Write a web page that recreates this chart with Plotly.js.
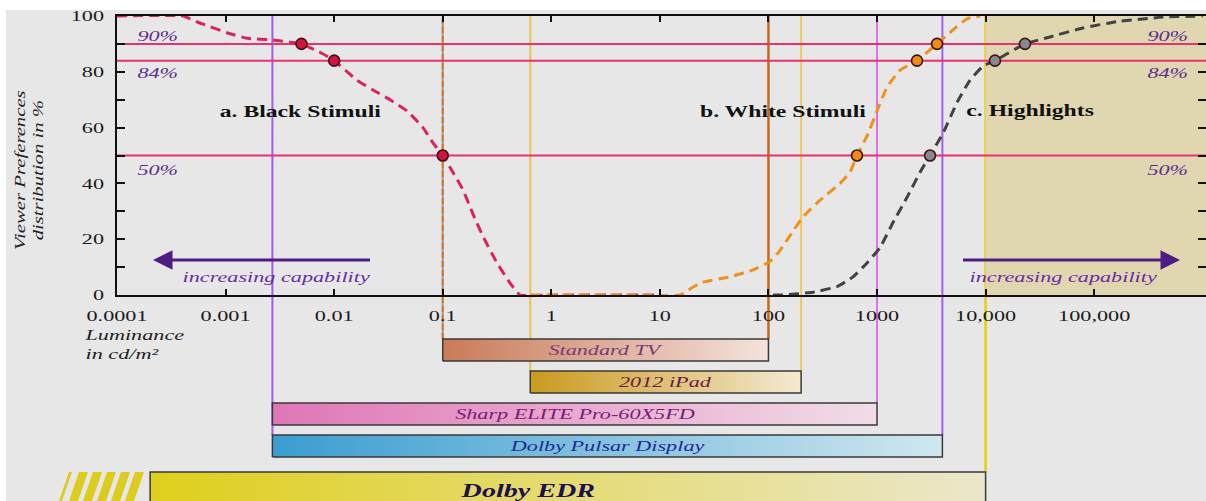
<!DOCTYPE html>
<html>
<head>
<meta charset="utf-8">
<script src="https://cdn.plot.ly/plotly-3.0.1.min.js"></script>
<style>html,body{margin:0;padding:0;background:#e7e7e7;}#chart{width:1206px;height:501px;}</style>
</head>
<body>
<div id="chart"></div>
<script>
// ---------------- data ----------------
const xTickVals = [1e-4, 1e-3, 1e-2, 0.1, 1, 10, 100, 1000, 1e4, 1e5];
const xTickText = ['0.0001', '0.001', '0.01', '0.1', '1', '10', '100', '1000', '10,000', '100,000'];
const yTickVals = [0, 20, 40, 60, 80, 100];
const yMinorVals = [10, 30, 50, 70, 90];

// a. Black stimuli
const blackX = [1e-4, 4.06e-4, 5.8e-4, 1.03e-3, 1.58e-3, 2.73e-3, 4.9e-3, 7.4e-3, 0.01, 0.0162, 0.0228, 0.0327, 0.0469, 0.0658, 0.0814, 0.1, 0.124, 0.154, 0.19, 0.235, 0.316, 0.417, 0.515, 1, 10];
const blackY = [100, 100, 97.5, 94, 92, 91.4, 90, 87, 84, 77, 73.5, 70, 66, 60, 54.5, 50, 44, 37.6, 29, 21, 11.5, 4.3, 0, 0, 0];
// b. White stimuli
const whiteX = [0.64, 5, 15.3, 23.4, 44.3, 72, 103, 128, 169, 208, 299, 456, 564, 654, 809, 1000, 1236, 1629, 2335, 3570, 5010, 6745, 8890];
const whiteY = [0, 0, 0, 4.3, 6.5, 9, 12, 16, 23, 28, 34, 40, 44, 50, 57, 66, 74.5, 80.6, 84, 90, 95, 99, 100];
// c. Highlights
const highX = [110, 136, 257, 428, 601, 809, 1066, 1404, 1889, 2489, 3078, 4056, 5456, 7190, 9470, 12200, 23070, 39200, 78900, 162000, 430000, 1.0e6];
const highY = [0, 0, 1, 3, 6.5, 11.5, 17, 26, 35, 44, 50, 58, 69, 77, 82, 84, 90, 92.5, 95.7, 98, 99.6, 100];

// preference markers (90%, 84%, 50%)
const blackMarkX = [0.005, 0.01, 0.1];
const whiteMarkX = [654, 2335, 3570];
const highMarkX = [3078, 12200, 23070];
const blackMarkY = [90, 84, 50];
const whiteMarkY = [50, 84, 90];
const highMarkY = [50, 84, 90];

const prefLevels = [90, 84, 50];
const prefLabels = ['90%', '84%', '50%'];

// displays: luminance ranges (cd/m²)
const deviceNames = ['Standard TV', '2012 iPad', 'Sharp ELITE Pro-60X5FD', 'Dolby Pulsar Display', 'Dolby EDR'];
const deviceMin = [0.1, 0.64, 0.0027, 0.0027, 3.7e-5];
const deviceMax = [100, 200, 1000, 4000, 10000];

const highlightStart = 10000;

// ---------------- styling ----------------
const W = 1206, H = 501, T = 16, PLOT_BOTTOM = 295, LEFT = 117;
const paperH = H - T;                  // 485
const lowH = H - PLOT_BOTTOM;          // 206 px below the plot
const decadePx = (W - LEFT) / 10.03;
const x2min = -4 - LEFT / decadePx;
const SERIF = '"Liberation Serif", "DejaVu Serif", serif';
const STRETCH = 1.48;

const rows = [[162, 140], [130, 108], [98, 76], [66, 44], [29, -4]];
const barGrad = [
  ['#c87a58', '#f3e3dc'],
  ['#c99a1e', '#f4e9d2'],
  ['#df76b6', '#f1dde7'],
  ['#3a9dd0', '#d0e7ef'],
  ['#dfcf1c', '#ebe7cc']
];
const barTextColor = ['#7b3a78', '#6a1a40', '#7a1a7a', '#22289a', '#1a1050'];
const guide = [
  [{c: '#d8781a', w: 2, dash: true}, {c: '#c8681a', w: 2.5}],
  [{c: '#f0c050', w: 2}, {c: '#f0c860', w: 2}],
  [null, {c: '#e070e8', w: 2}],
  [{c: '#a458f0', w: 2}, {c: '#a060f0', w: 2}],
  [null, {c: '#e8d000', w: 2.5}]
];

const p2y = v => v / paperH;           // y2 units -> paper

const traces = [];
function curve(x, y, color) {
  return {x: x, y: y, xaxis: 'x', yaxis: 'y', mode: 'lines', type: 'scatter',
    line: {color: color, width: 3, dash: '10px,6px', shape: 'spline', smoothing: 0.4},
    hoverinfo: 'skip', showlegend: false, cliponaxis: false};
}
traces.push(curve(blackX, blackY, '#dc2358'));
traces.push(curve(whiteX, whiteY, '#f0901e'));
traces.push(curve(highX, highY, '#424242'));
function marks(x, y, color) {
  return {x: x, y: y, xaxis: 'x', yaxis: 'y', mode: 'markers', type: 'scatter',
    marker: {size: 11, color: color, line: {color: '#3a1515', width: 1.6}},
    hoverinfo: 'skip', showlegend: false, cliponaxis: false};
}
traces.push(marks(blackMarkX, blackMarkY, '#d3123f'));
traces.push(marks(whiteMarkX, whiteMarkY, '#f08a12'));
traces.push(marks(highMarkX, highMarkY, '#8a8690'));

// display bars (gradient filled)
const stripePx = 80;
deviceNames.forEach((name, i) => {
  let x0 = deviceMin[i];
  if (i === 4) x0 = Math.pow(10, Math.log10(deviceMin[i]) + stripePx / decadePx);
  const x1 = deviceMax[i];
  const [yt, yb] = rows[i];
  traces.push({
    x: [x0, x1, x1, x0, x0], y: [yb, yb, yt, yt, yb], xaxis: 'x2', yaxis: 'y2',
    type: 'scatter', mode: 'lines', fill: 'toself',
    fillgradient: {type: 'horizontal', colorscale: [[0, barGrad[i][0]], [1, barGrad[i][1]]]},
    line: {color: '#3a3a3a', width: 1.5}, hoverinfo: 'skip', showlegend: false
  });
});

// ---------------- shapes ----------------
const shapes = [];
shapes.push({type: 'rect', xref: 'paper', yref: 'paper', x0: -0.01, x1: 1.01, y0: (H - 10) / paperH, y1: 1.05, fillcolor: '#ffffff', line: {width: 0}, layer: 'below'});
shapes.push({type: 'rect', xref: 'paper', yref: 'paper', x0: -0.01, x1: 6 / W, y0: -0.01, y1: 1.05, fillcolor: '#ffffff', line: {width: 0}, layer: 'below'});
// highlights region
shapes.push({type: 'rect', xref: 'x', yref: 'y', x0: highlightStart, x1: 1e7, y0: 0, y1: 100, fillcolor: '#e0d6b0', line: {width: 0}, layer: 'below'});
// vertical guides
deviceNames.forEach((name, i) => {
  const topY = p2y(rows[i][0]);
  const ends = [deviceMin[i], deviceMax[i]];
  guide[i].forEach((g, k) => {
    if (!g) return;
    if (g.dash) {
      shapes.push({type: 'line', xref: 'x', yref: 'paper', x0: ends[k], x1: ends[k], y0: topY, y1: 1, line: {color: '#8f9aa6', width: 2}, layer: 'below'});
    }
    shapes.push({type: 'line', xref: 'x', yref: 'paper', x0: ends[k], x1: ends[k], y0: topY, y1: 1,
      line: {color: g.c, width: g.w, dash: g.dash ? '6px,3px' : 'solid'}, layer: 'below'});
  });
});
// preference level lines (in the data layer so they sit over the highlights band)
prefLevels.forEach(v => {
  shapes.push({type: 'line', xref: 'x', yref: 'y', x0: 1e-4, x1: 1.2e6, y0: v, y1: v, line: {color: '#e5336f', width: 2}, layer: 'below'});
});
// EDR stripes
const edrTop = p2y(rows[4][0]);
const px2p = px => px / W;
const stripeTops = [[69, 72], [79, 88], [93, 102], [107, 116], [121, 130], [135, 144]];
stripeTops.forEach(s => {
  shapes.push({type: 'path', xref: 'paper', yref: 'paper',
    path: `M ${px2p(s[0] - 10)} 0 L ${px2p(s[1] - 10)} 0 L ${px2p(s[1])} ${edrTop} L ${px2p(s[0])} ${edrTop} Z`,
    fillcolor: '#dccc1e', line: {width: 0}});
});

// ---------------- annotations ----------------
const ann = [];
const yv = px => (PLOT_BOTTOM - px) / ((PLOT_BOTTOM - T) / 100);
const labelPx = [36, 73, 170];
prefLabels.forEach((t, i) => {
  [158, 1168].forEach(xp => {
    ann.push({xref: 'paper', yref: 'y', x: xp / W, y: yv(labelPx[i]), xanchor: 'center', text: '<i>' + t + '</i>', showarrow: false,
      font: {family: SERIF, size: 15, color: '#5e2f90'}});
  });
});
[['a. Black Stimuli', 300], ['b. White Stimuli', 783], ['c. Highlights', 1030]].forEach(a => {
  ann.push({xref: 'paper', yref: 'y', x: a[1] / W, y: yv(111), xanchor: 'center', text: '<b>' + a[0] + '</b>', showarrow: false,
    font: {family: SERIF, size: 16, color: '#111'}});
});
ann.push({xref: 'paper', yref: 'y', x: 153 / W, y: yv(260), ax: 220, ay: 0, axref: 'pixel', ayref: 'pixel', text: ' ',
  showarrow: true, arrowhead: 2, arrowsize: 1.3, arrowwidth: 3, arrowcolor: '#4e1c82'});
ann.push({xref: 'paper', yref: 'y', x: 1180 / W, y: yv(260), ax: -220, ay: 0, axref: 'pixel', ayref: 'pixel', text: ' ',
  showarrow: true, arrowhead: 2, arrowsize: 1.3, arrowwidth: 3, arrowcolor: '#4e1c82'});
[276, 1063].forEach(xp => {
  ann.push({xref: 'paper', yref: 'y', x: xp / W, y: yv(277), xanchor: 'center', text: '<i>increasing capability</i>', showarrow: false,
    font: {family: SERIF, size: 15, color: '#6a2da2'}});
});
ann.push({xref: 'paper', yref: 'paper', x: 29 / W, y: (H - 170) / paperH, xanchor: 'center', yanchor: 'middle',
  text: '<i>Viewer Preferences<br>distribution in %</i>',
  textangle: -90, showarrow: false, font: {family: SERIF, size: 14, color: '#222'}});
ann.push({xref: 'paper', yref: 'paper', x: 82 / W, y: (H - 325) / paperH, xanchor: 'left', yanchor: 'top', align: 'left',
  text: '<i>Luminance<br>in cd/m²</i>', showarrow: false, font: {family: SERIF, size: 15, color: '#222'}});
deviceNames.forEach((name, i) => {
  const c = (Math.log10(deviceMin[i]) + Math.log10(deviceMax[i])) / 2;
  const [yt, yb] = rows[i];
  const yc = i === 4 ? 11 : (yt + yb) / 2;
  ann.push({xref: 'x2', yref: 'y2', x: c, y: yc, xanchor: 'center', showarrow: false,
    text: i === 4 ? '<b><i>' + name + '</i></b>' : '<i>' + name + '</i>',
    font: {family: SERIF, size: i === 4 ? 19 : 15, color: barTextColor[i]}});
});

const axisFont = {family: SERIF, size: 15, color: '#1a1a1a'};
const layout = {
  width: W, height: H,
  margin: {l: 0, r: 0, t: T, b: 0, pad: 0},
  paper_bgcolor: '#e7e7e7', plot_bgcolor: '#e7e7e7',
  showlegend: false, hovermode: false,
  xaxis: {type: 'log', range: [-4, 6.03], domain: [LEFT / W, 1], anchor: 'y',
    tickvals: xTickVals, ticktext: xTickText, ticks: 'inside', ticklen: 6, tickwidth: 2, tickcolor: '#111',
    showline: true, linewidth: 2, linecolor: '#111', mirror: 'ticks', showgrid: false, zeroline: false,
    tickfont: axisFont, ticklabelstandoff: 6},
  yaxis: {range: [0, 100], domain: [lowH / paperH, 1], anchor: 'x',
    tickvals: yTickVals, ticks: 'inside', ticklen: 8, tickwidth: 2, tickcolor: '#111',
    minor: {tickvals: yMinorVals, ticks: 'inside', ticklen: 8, tickwidth: 2, tickcolor: '#111', showgrid: false},
    showline: true, linewidth: 2, linecolor: '#111', mirror: 'ticks', showgrid: false, zeroline: false,
    tickfont: axisFont, ticklabelstandoff: 8},
  xaxis2: {type: 'log', range: [x2min, 6.03], domain: [0, 1], anchor: 'y2', visible: false},
  yaxis2: {range: [0, lowH], domain: [0, lowH / paperH], anchor: 'x2', visible: false},
  shapes: shapes,
  annotations: ann
};

// the source figure's lettering is horizontally widened; widen each text about its anchor
function widenText(f) {
  document.querySelectorAll('#chart svg text').forEach(t => {
    if (!t.textContent.trim()) return;
    const bb = t.getBBox();
    const anchor = t.getAttribute('text-anchor') || getComputedStyle(t).textAnchor || 'start';
    const cx = anchor === 'middle' ? bb.x + bb.width / 2 : (anchor === 'end' ? bb.x + bb.width : bb.x);
    const prev = t.getAttribute('transform') || '';
    t.setAttribute('transform', prev + ` translate(${cx},0) scale(${f},1) translate(${-cx},0)`);
  });
}

Plotly.newPlot('chart', traces, layout, {displayModeBar: false, staticPlot: true}).then(() => widenText(STRETCH));
</script>
</body>
</html>
